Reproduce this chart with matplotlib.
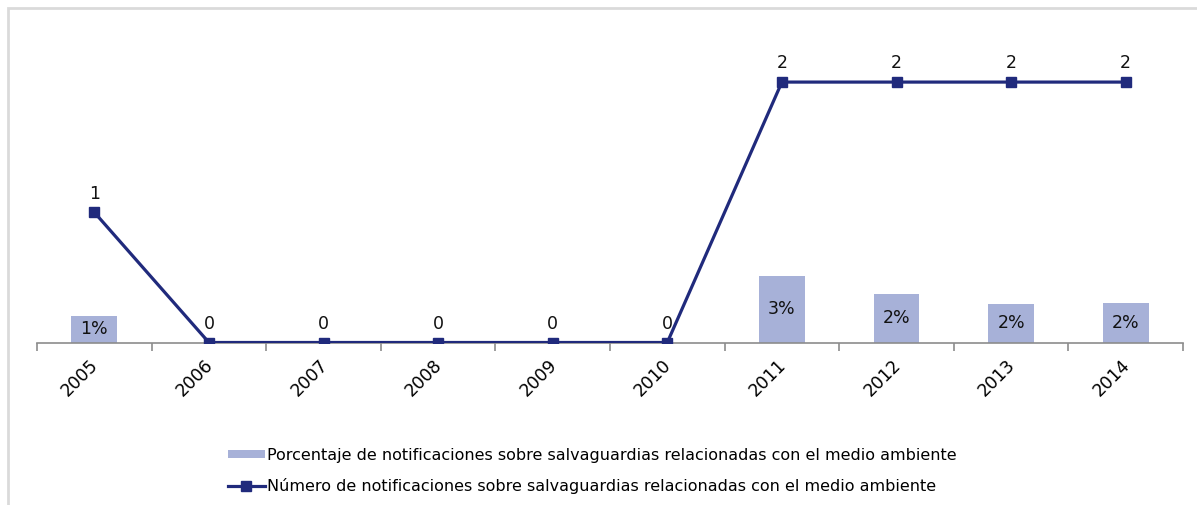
import matplotlib
matplotlib.use("Agg")
import matplotlib.pyplot as plt
from matplotlib.lines import Line2D
from matplotlib.patches import Patch, Rectangle
from matplotlib.transforms import ScaledTranslation
import numpy as np

years = ["2005", "2006", "2007", "2008", "2009", "2010", "2011", "2012", "2013", "2014"]
# percentage of notifications (bars); years without a bar are None
pct_values = [1.19, None, None, None, None, None, 3.0, 2.18, 1.73, 1.76]
# number of notifications (line)
count_values = [1, 0, 0, 0, 0, 0, 2, 2, 2, 2]

bar_label = "Porcentaje de notificaciones sobre salvaguardias relacionadas con el medio ambiente"
line_label = "Número de notificaciones sobre salvaguardias relacionadas con el medio ambiente"

bar_color = "#A7B1D8"
line_color = "#202A7C"
axis_grey = "#8C8C8C"

plt.rcParams["font.family"] = "DejaVu Sans"

W, H = 1197, 505
fig = plt.figure(figsize=(W / 100, H / 100), dpi=100)

# light chart-area frame (left and top edges visible)
fig.patches.append(Rectangle((8 / W, -0.1), 1.2, 1 - 8 / H + 0.1, transform=fig.transFigure,
                             fill=False, edgecolor="#DADADA", linewidth=2))

left, right = 37 / W, 1183 / W
bottom, top = 1 - 342.5 / H, 1 - 30 / H
ax = fig.add_axes([left, bottom, right - left, top - bottom])
ax2 = ax.twinx()

x = np.arange(len(years))
bar_x = [xi for xi, v in zip(x, pct_values) if v is not None]
bar_h = [v for v in pct_values if v is not None]
ax.bar(bar_x, bar_h, width=0.4, color=bar_color, zorder=2)
for xi, v in zip(bar_x, bar_h):
    ax.text(xi, v / 2, f"{round(v):d}%", ha="center", va="center", fontsize=12.5, color="#111111")

ax2.plot(x, count_values, color=line_color, linewidth=2.3, marker="s", markersize=7,
         markerfacecolor=line_color, markeredgecolor=line_color, zorder=3)
for xi, v in zip(x, count_values):
    ax2.annotate(str(v), (xi, v), xytext=(0, 7), textcoords="offset points",
                 ha="center", va="bottom", fontsize=12.5, color="#111111")

ax.set_xlim(-0.5, len(years) - 0.5)
ax.set_ylim(0, 14.0)
ax2.set_ylim(0, 2.4)

for a in (ax, ax2):
    a.set_yticks([])
    for side in ("left", "right", "top", "bottom"):
        a.spines[side].set_visible(False)
ax.spines["bottom"].set_visible(True)
ax.spines["bottom"].set_color(axis_grey)
ax.spines["bottom"].set_linewidth(1.2)

ax.set_xticks(x)
ax.set_xticklabels(years, rotation=45, ha="right", rotation_mode="anchor", fontsize=12.5)
ax.tick_params(axis="x", which="major", length=0, pad=10)
shift = ScaledTranslation(-5 / 100, 0, fig.dpi_scale_trans)
for lbl in ax.get_xticklabels():
    lbl.set_transform(lbl.get_transform() + shift)
ax.set_xticks(np.arange(-0.5, len(years), 1.0), minor=True)
ax.tick_params(axis="x", which="minor", length=6, color=axis_grey, width=1.2)

handles = [
    Patch(facecolor=bar_color, edgecolor="none"),
    Line2D([0], [0], color=line_color, linewidth=2.3, marker="s", markersize=7),
]
fig.legend(handles, [bar_label, line_label], loc="upper left",
           bbox_to_anchor=(228 / W, 1 - 448 / H), frameon=False, fontsize=11.5,
           borderpad=0, borderaxespad=0, handlelength=2.3, handleheight=0.4,
           handletextpad=0.15, labelspacing=0.95)

fig.savefig("out.png", dpi=100)
